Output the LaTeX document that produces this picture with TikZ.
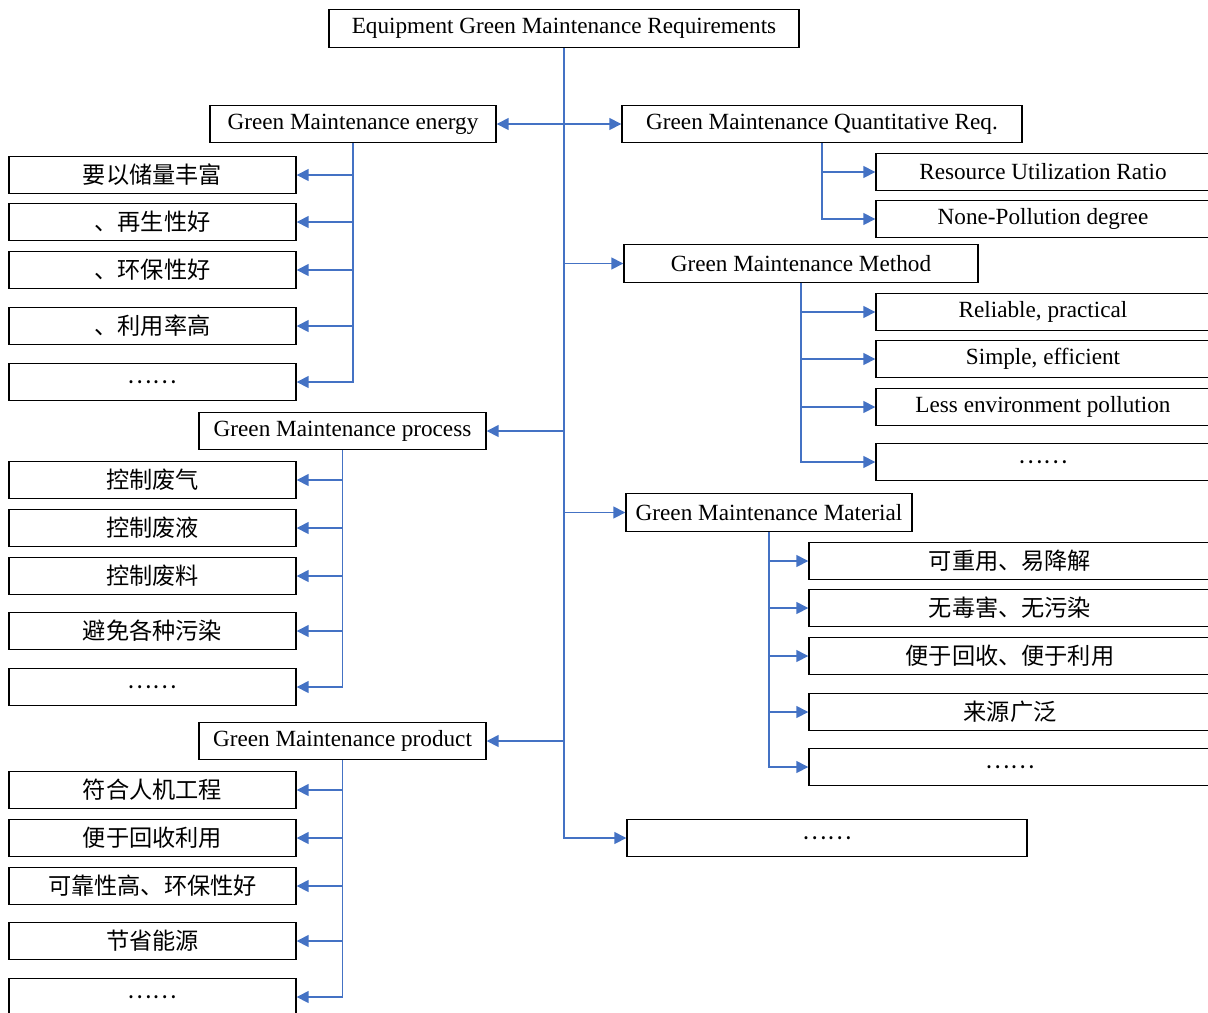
\documentclass[tikz,border=0pt]{standalone}
\usepackage{fontspec}
\setmainfont{Liberation Serif}
\newfontfamily\cjk{Noto Sans CJK SC}
\usetikzlibrary{arrows.meta}
\definecolor{linkblue}{HTML}{4472C4}
\tikzset{
  box/.style={draw, line width=0.8pt, minimum height=0.75cm, inner sep=0pt,
    minimum width=#1*0.02cm, font=\fontsize{13.2}{16}\selectfont},
  link/.style={draw=linkblue, line width=0.9pt, -{Triangle[length=0.24cm,width=0.24cm]}}
}
\begin{document}
\begin{tikzpicture}[x=0.02cm, y=-0.02cm]
\useasboundingbox (0,0) rectangle (1208,1012);
\node[box=470] (top) at (564,28.5) {Equipment Green Maintenance Requirements};
\node[box=286] (energy) at (353,124) {Green Maintenance energy};
\node[box=400] (quant) at (822,124) {Green Maintenance Quantitative Req.};
\node[box=354] (method) at (801,263.5) {Green Maintenance Method};
\node[box=287] (process) at (342.5,431) {Green Maintenance process};
\node[box=286] (material) at (769,512.5) {Green Maintenance Material};
\node[box=287] (product) at (342.5,741) {Green Maintenance product};
\node[box=400] (last) at (827,838) {\cjk ……};
\draw[link] (top.south) |- (last.west);
\foreach \n in {energy,process,product} \draw[link] (top.south |- \n.east) -- (\n.east);
\foreach \n in {quant,method,material} \draw[link] (top.south |- \n.west) -- (\n.west);
\foreach \y/\txt [count=\i] in {175/要以储量丰富,222/、再生性好,270/、环保性好,326/、利用率高,382/……}
  {\node[box=287] (e\i) at (152.5,\y) {\cjk\txt};
   \draw[link] (energy.south) |- (e\i.east);}
\foreach \y/\txt [count=\i] in {172/{Resource Utilization Ratio},219/{None-Pollution degree}}
  {\node[box=334] (q\i) at (1043,\y) {\txt};
   \draw[link] (quant.south) |- (q\i.west);}
\foreach \y/\txt [count=\i] in {312/{Reliable, practical},359/{Simple, efficient},407/{Less environment pollution},462/{\cjk ……}}
  {\node[box=334] (m\i) at (1043,\y) {\txt};
   \draw[link] (method.south) |- (m\i.west);}
\foreach \y/\txt [count=\i] in {480/控制废气,528/控制废液,576/控制废料,631/避免各种污染,687/……}
  {\node[box=287] (p\i) at (152.5,\y) {\cjk\txt};
   \draw[link] (process.south) |- (p\i.east);}
\foreach \y/\txt [count=\i] in {561/可重用、易降解,608/无毒害、无污染,656/便于回收、便于利用,712/来源广泛,767/……}
  {\node[box=402] (t\i) at (1010,\y) {\cjk\txt};
   \draw[link] (material.south) |- (t\i.west);}
\foreach \y/\txt [count=\i] in {790/符合人机工程,838/便于回收利用,886/可靠性高、环保性好,941/节省能源,997/……}
  {\node[box=287] (d\i) at (152.5,\y) {\cjk\txt};
   \draw[link] (product.south) |- (d\i.east);}
\end{tikzpicture}
\end{document}
